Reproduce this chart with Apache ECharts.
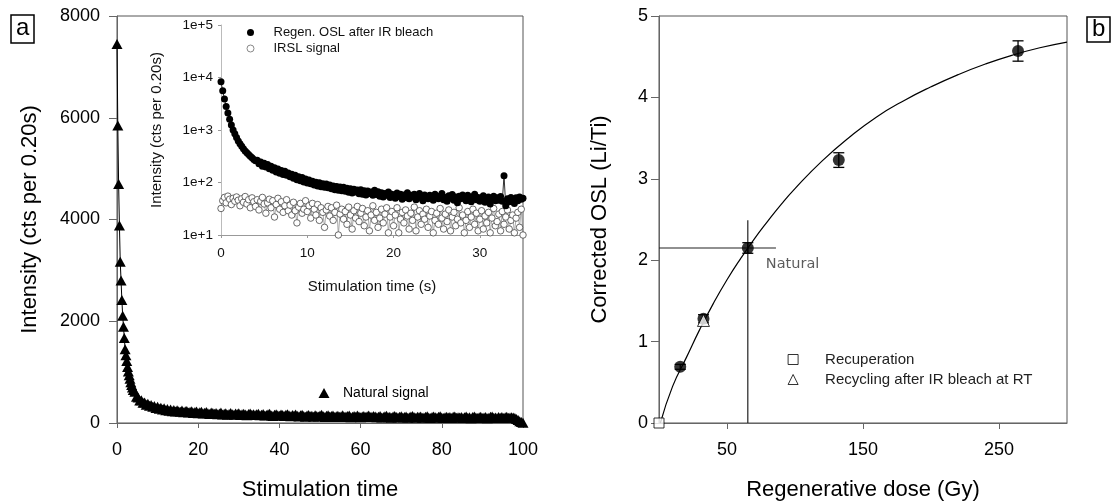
<!DOCTYPE html>
<html>
<head>
<meta charset="utf-8">
<script src="https://cdn.jsdelivr.net/npm/echarts@6/dist/echarts.min.js"></script>
<style>
  html, body { margin: 0; padding: 0; background: #fff; }
  #chart { width: 1115px; height: 504px; }
</style>
</head>
<body>
<div id="chart"></div>
<script>
// ---------- (a) natural OSL decay, counts per 0.20 s channel ----------
const naturalEarlyStep = 0.2;          // s, channels from 0 to 4.0 s
const naturalEarly = [7450, 5850, 4700, 3880, 3170, 2800, 2420, 2110, 1890, 1670,
  1450, 1330, 1220, 1100, 1010, 940, 870, 800, 745, 700, 650];
const naturalLateStart = 4.4;          // s
const naturalLateStep = 0.4;           // s
const naturalLate = [
  612, 518, 503, 441, 446, 398, 402, 361, 377, 338, 356, 318, 334, 297, 318, 281, 300, 266, 289, 251, 274, 243, 263, 232, 255,
  226, 251, 231, 219, 244, 212, 229, 238, 205, 221, 233, 197, 214, 226, 193, 209, 221, 187, 202, 215, 190, 176, 208, 196, 181,
  199, 172, 188, 205, 169, 183, 194, 163, 178, 197, 171, 160, 186, 175, 192, 158, 170, 183, 166, 152, 179, 188, 161, 173, 155,
  170, 182, 151, 164, 177, 146, 158, 171, 184, 149, 139, 162, 174, 153, 143, 167, 156, 138, 160, 172, 147, 135, 158, 149, 166,
  141, 128, 153, 164, 137, 125, 149, 158, 131, 142, 121, 154, 138, 127, 147, 160, 133, 119, 141, 152, 126, 137, 148, 118, 132,
  144, 123, 131, 152, 117, 128, 139, 146, 114, 125, 137, 121, 148, 130, 112, 126, 140, 119, 133, 145, 116, 122, 138, 127, 111,
  124, 136, 109, 118, 131, 142, 113, 121, 105, 128, 139, 116, 110, 125, 134, 107, 119, 130, 102, 115, 127, 138, 111, 104, 122,
  117, 129, 103, 110, 124, 135, 108, 99, 116, 127, 113, 101, 121, 132, 106, 97, 114, 125, 109, 118, 100, 123, 130, 104, 112,
  108, 120, 97, 115, 126, 103, 111, 95, 119, 128, 106, 100, 113, 124, 98, 109, 117, 94, 105, 121, 127, 102, 110, 96, 116,
  104, 119, 99, 112, 123, 101, 108, 115, 110, 97, 80, 58, 36, 18, 5];

// ---------- inset: regenerated OSL after IR bleach and IRSL, 0.2 s channels from 0 s ----------
const insetStep = 0.2;
const regenOsl = [
  8300, 5600, 3900, 2800, 2100, 1600, 1250, 1000, 850, 720,
  620, 550, 490, 440, 400, 370, 340, 315, 295, 275,
  260, 265, 228, 246, 205, 232, 198, 220, 182, 205, 172,
  190, 158, 181, 150, 170, 142, 163, 138, 152, 129,
  144, 121, 138, 113, 129, 108, 124, 102, 117, 98,
  112, 95, 106, 90, 101, 86, 99, 83, 95, 81,
  94, 79, 90, 76, 86, 73, 84, 71, 82, 70,
  81, 68, 78, 65, 76, 63, 74, 66, 72, 61,
  73, 60, 70, 58, 69, 62, 66, 57, 71, 59,
  67, 55, 64, 53, 62, 57, 66, 52, 60, 55,
  50, 63, 54, 60, 48, 58, 52, 64, 49, 57,
  53, 60, 47, 56, 62, 50, 45, 58, 53, 49,
  57, 51, 46, 60, 54, 49, 55, 62, 47, 52,
  44, 56, 50, 59, 46, 53, 41, 55, 49, 58,
  51, 45, 57, 48, 43, 54, 60, 47, 52, 44,
  50, 56, 42, 48, 53, 39, 47, 55, 45, 51,
  46, 54, 44, 135, 36, 49, 43, 52, 47, 40,
  51, 45, 53, 48, 50];
const irsl = [
  32, 45, 52, 41, 55, 48, 38, 50, 44, 53,
  46, 36, 49, 42, 54, 39, 47, 33, 51, 43,
  35, 47, 30, 44, 52, 39, 26, 41, 48, 33,
  45, 22, 38, 50, 31, 43, 27, 36, 47, 29,
  37, 24, 42, 29, 17, 34, 40, 26, 31, 45,
  28, 36, 21, 40, 31, 24, 38, 19, 33, 27,
  14, 30, 35, 23, 33, 19, 27, 37, 10, 25,
  31, 20, 28, 16, 34, 24, 13, 29, 21, 35,
  18, 26, 32, 15, 22, 29, 12, 24, 36, 19,
  27, 14, 21, 31, 17, 25, 33, 11, 22, 28,
  15, 24, 33, 11, 20, 27, 17, 30, 23, 13,
  26, 19, 34, 12, 22, 29, 16, 25, 20, 31,
  14, 23, 28, 11, 19, 26, 16, 32, 21, 13,
  25, 18, 30, 12, 22, 27, 15, 20, 33, 17,
  24, 11, 19, 28, 14, 22, 31, 16, 26, 12,
  20, 29, 13, 23, 17, 27, 11, 21, 32, 15,
  18, 25, 12, 28, 16, 22, 30, 13, 19, 24,
  11, 21, 27, 14, 31, 10];
const insetDecades = [1, 2, 3, 4, 5];

// ---------- (b) dose response ----------
const fitDose = [1, 10, 20, 30, 40, 50, 60, 70, 80, 90, 100, 120, 140, 160, 180, 200, 220, 240, 260, 280, 300];
const fitLc   = [0, 0.45, 0.80, 1.15, 1.47, 1.76, 2.02, 2.26, 2.48, 2.69, 2.88, 3.22, 3.51, 3.76, 3.96, 4.13, 4.28, 4.41, 4.52, 4.61, 4.68];
const regenDose = [15.6, 32.7, 132.2, 264.0];
const regenLc   = [0.69, 1.28, 3.23, 4.57];
const regenErr  = [0.03, 0.05, 0.09, 0.125];
const naturalDose = [65.3];
const naturalLc   = [2.15];
const naturalErr  = [0.065];
const naturalDoseUpper = 86;           // right end of the dose error line
const naturalLcUpper = 2.49;           // top of the signal error line
const recupDose = [0];
const recupLc   = [0];
const recycleDose = [32.7];
const recycleLc   = [1.26];
const doseTicks = [50, 150, 250];

// ---------- build series data ----------
const naturalPoints = naturalEarly.map((v, i) => [+(i * naturalEarlyStep).toFixed(1), v])
  .concat(naturalLate.map((v, i) => [+(naturalLateStart + i * naturalLateStep).toFixed(1), v]));
const regenPoints = regenOsl.map((v, i) => [+(i * insetStep).toFixed(1), v]);
const irslPoints = irsl.map((v, i) => [+(i * insetStep).toFixed(1), v]);
const fitPoints = fitDose.map((d, i) => [d, fitLc[i]]);
const regenPts = regenDose.map((d, i) => [d, regenLc[i]]);
const errRows = regenDose.map((d, i) => [d, regenLc[i] - regenErr[i], regenLc[i] + regenErr[i]])
  .concat(naturalDose.map((d, i) => [d, naturalLc[i] - naturalErr[i], naturalLc[i] + naturalErr[i]]));

const F = '"Liberation Sans", Arial, Helvetica, sans-serif';
const AX = '#666';
const plain = v => String(v);

const chart = echarts.init(document.getElementById('chart'), null, { renderer: 'canvas' });

function axisBase(extra) {
  return Object.assign({
    type: 'value',
    splitLine: { show: false },
    axisLine: { show: true, onZero: false, lineStyle: { color: AX, width: 1 } },
    axisTick: { show: true, inside: false, lineStyle: { color: AX, width: 1 } },
    nameTextStyle: { fontFamily: F, color: '#000', fontSize: 22 },
    nameLocation: 'middle'
  }, extra);
}

const option = {
  animation: false,
  backgroundColor: '#fff',
  textStyle: { fontFamily: F },
  title: [
    { text: 'a', left: 11, top: 15, padding: [0, 5, 2, 5], borderColor: '#000', borderWidth: 1.5,
      textStyle: { fontFamily: F, fontSize: 24, fontWeight: 'normal', color: '#000', lineHeight: 26 } },
    { text: 'b', left: 1087, top: 17, padding: [0, 5, 0, 5], borderColor: '#000', borderWidth: 1.5,
      textStyle: { fontFamily: F, fontSize: 24, fontWeight: 'normal', color: '#000', lineHeight: 25 } }
  ],
  grid: [
    { left: 117, top: 16, width: 406, height: 407, show: true, borderColor: '#555', borderWidth: 1,
      backgroundColor: 'transparent', containLabel: false, outerBoundsMode: 'none' },
    { left: 221, top: 25, width: 302, height: 210, show: false, containLabel: false, outerBoundsMode: 'none' },
    { left: 659, top: 16, width: 408, height: 407, show: true, borderColor: '#555', borderWidth: 1,
      backgroundColor: 'transparent', containLabel: false, outerBoundsMode: 'none' }
  ],
  legend: [
    { left: 246.5, top: 26, padding: 0, orient: 'vertical', itemWidth: 7, itemHeight: 7, itemGap: 3,
      selectedMode: false, symbolKeepAspect: true,
      textStyle: { fontFamily: F, fontSize: 13, color: '#111', padding: [0, 0, 0, 14.5] },
      data: [
        { name: 'Regen. OSL after IR bleach', icon: 'circle', itemStyle: { color: '#000', borderWidth: 0 } },
        { name: 'IRSL signal', icon: 'circle', itemStyle: { color: '#fff', borderColor: '#888', borderWidth: 1 } }
      ] },
    { left: 318.5, top: 386, padding: 0, itemWidth: 11, itemHeight: 10, selectedMode: false, symbolKeepAspect: true,
      textStyle: { fontFamily: F, fontSize: 14, color: '#000', padding: [0, 0, 0, 8.5] },
      data: [{ name: 'Natural signal', icon: 'triangle', itemStyle: { color: '#000', borderWidth: 0 } }] },
    { left: 787.6, top: 352, padding: 0, orient: 'vertical', itemWidth: 10, itemHeight: 10, itemGap: 5,
      selectedMode: false, symbolKeepAspect: true,
      textStyle: { fontFamily: F, fontSize: 15, color: '#222', padding: [0, 0, 0, 22] },
      data: [
        { name: 'Recuperation', icon: 'rect', itemStyle: { color: '#fff', borderColor: '#000', borderWidth: 1 } },
        { name: 'Recycling after IR bleach at RT', icon: 'triangle', itemStyle: { color: '#fff', borderColor: '#000', borderWidth: 1 } }
      ] }
  ],
  xAxis: [
    axisBase({ gridIndex: 0, min: 0, max: 100, interval: 20, name: 'Stimulation time', nameGap: 56,
      axisTick: { show: true, length: 5, lineStyle: { color: AX } },
      axisLabel: { margin: 18, fontSize: 18, color: '#000', fontFamily: F, formatter: plain } }),
    axisBase({ gridIndex: 1, min: 0, max: 35, interval: 10, name: 'Stimulation time (s)', nameGap: 44,
      nameTextStyle: { fontFamily: F, color: '#111', fontSize: 15 },
      axisLine: { show: true, onZero: false, lineStyle: { color: '#999' } },
      axisTick: { show: true, length: 3, lineStyle: { color: '#999' } },
      axisLabel: { margin: 11, fontSize: 13.5, color: '#111', fontFamily: F, showMaxLabel: false, formatter: plain } }),
    axisBase({ gridIndex: 2, min: 0, max: 300, interval: 50, name: 'Regenerative dose (Gy)', nameGap: 56,
      axisTick: { show: true, length: 6, lineStyle: { color: AX }, customValues: doseTicks },
      axisLabel: { margin: 18, fontSize: 18, color: '#000', fontFamily: F, customValues: doseTicks, formatter: plain } })
  ],
  yAxis: [
    axisBase({ gridIndex: 0, min: 0, max: 8000, interval: 2000, name: 'Intensity (cts per 0.20s)', nameGap: 76,
      axisTick: { show: true, length: 8, lineStyle: { color: AX } },
      axisLabel: { margin: 17, fontSize: 18, color: '#000', fontFamily: F, formatter: plain } }),
    axisBase({ gridIndex: 1, type: 'log', logBase: 10, min: 10, max: 100000, splitNumber: 4,
      name: 'Intensity (cts per 0.20s)', nameGap: 57,
      nameTextStyle: { fontFamily: F, color: '#111', fontSize: 15 },
      axisLine: { show: true, onZero: false, lineStyle: { color: '#bbb' } },
      axisTick: { show: true, length: 3, lineStyle: { color: '#999' } },
      axisLabel: { margin: 8, fontSize: 13.5, color: '#111', fontFamily: F,
        formatter: v => {
          const e = Math.round(Math.log10(v));
          return insetDecades.indexOf(e) >= 0 ? '1e+' + e : '';
        } } }),
    axisBase({ gridIndex: 2, min: 0, max: 5, interval: 1, name: 'Corrected OSL (Li/Ti)', nameGap: 48,
      axisTick: { show: true, length: 8, lineStyle: { color: AX } },
      axisLabel: { margin: 11, fontSize: 18, color: '#000', fontFamily: F, formatter: plain } })
  ],
  series: [
    // (a) natural signal
    { name: 'Natural signal', type: 'line', xAxisIndex: 0, yAxisIndex: 0, data: naturalPoints,
      symbol: 'triangle', symbolSize: [11, 10], showSymbol: true, showAllSymbol: true,
      itemStyle: { color: '#000' }, lineStyle: { color: '#000', width: 1 }, z: 2, silent: true },
    // inset
    { name: 'IRSL signal', type: 'line', xAxisIndex: 1, yAxisIndex: 1, data: irslPoints,
      symbol: 'circle', symbolSize: 6.5, showAllSymbol: true,
      itemStyle: { color: '#fff', borderColor: '#444', borderWidth: 0.8 },
      lineStyle: { color: '#888', width: 0.7 }, z: 3, silent: true },
    { name: 'Regen. OSL after IR bleach', type: 'line', xAxisIndex: 1, yAxisIndex: 1, data: regenPoints,
      symbol: 'circle', symbolSize: 7, showAllSymbol: true,
      itemStyle: { color: '#000' }, lineStyle: { color: '#000', width: 0.8 }, z: 4, silent: true },
    // (b) growth curve
    { name: 'fit', type: 'line', xAxisIndex: 2, yAxisIndex: 2, data: fitPoints, smooth: 0.5,
      showSymbol: false, lineStyle: { color: '#000', width: 1.2 }, z: 2, silent: true },
    { name: 'naturalDoseLine', type: 'line', xAxisIndex: 2, yAxisIndex: 2,
      data: [[naturalDose[0], 0], [naturalDose[0], naturalLcUpper]], showSymbol: false,
      lineStyle: { color: '#222', width: 1.2 }, z: 2, silent: true },
    { name: 'naturalLcLine', type: 'line', xAxisIndex: 2, yAxisIndex: 2,
      data: [[0, naturalLc[0]], [naturalDoseUpper, naturalLc[0]]], showSymbol: false,
      lineStyle: { color: '#222', width: 1.2 }, z: 2, silent: true },
    { name: 'errors', type: 'custom', xAxisIndex: 2, yAxisIndex: 2, data: errRows, z: 3, silent: true,
      encode: { x: 0, y: [1, 2] },
      renderItem: (params, api) => {
        const x = api.value(0);
        const hi = api.coord([x, api.value(2)]);
        const lo = api.coord([x, api.value(1)]);
        const w = 5.5;
        const st = { stroke: '#000', lineWidth: 1.3 };
        return { type: 'group', children: [
          { type: 'line', shape: { x1: hi[0], y1: hi[1], x2: lo[0], y2: lo[1] }, style: st },
          { type: 'line', shape: { x1: hi[0] - w, y1: hi[1], x2: hi[0] + w, y2: hi[1] }, style: st },
          { type: 'line', shape: { x1: lo[0] - w, y1: lo[1], x2: lo[0] + w, y2: lo[1] }, style: st }
        ] };
      } },
    { name: 'Regenerated', type: 'scatter', xAxisIndex: 2, yAxisIndex: 2, data: regenPts,
      symbol: 'circle', symbolSize: 12, itemStyle: { color: '#000' }, z: 4, silent: true },
    { name: 'Natural', type: 'scatter', xAxisIndex: 2, yAxisIndex: 2,
      data: naturalDose.map((d, i) => [d, naturalLc[i]]),
      symbol: 'circle', symbolSize: 12, itemStyle: { color: '#000' }, z: 4, silent: true,
      label: { show: true, formatter: 'Natural', position: [24, 22], align: 'left', verticalAlign: 'middle',
        fontFamily: '"DejaVu Sans", Verdana, sans-serif', fontSize: 14.5, color: '#333' } },
    { name: 'Recuperation', type: 'scatter', xAxisIndex: 2, yAxisIndex: 2,
      data: recupDose.map((d, i) => [d, recupLc[i]]),
      symbol: 'rect', symbolSize: 10, itemStyle: { color: '#fff', borderColor: '#000', borderWidth: 1 },
      z: 5, silent: true },
    { name: 'Recycling after IR bleach at RT', type: 'scatter', xAxisIndex: 2, yAxisIndex: 2,
      data: recycleDose.map((d, i) => [d, recycleLc[i]]),
      symbol: 'triangle', symbolSize: 12, itemStyle: { color: '#fff', borderColor: '#000', borderWidth: 1 },
      z: 5, silent: true }
  ]
};

chart.setOption(option);
</script>
</body>
</html>
